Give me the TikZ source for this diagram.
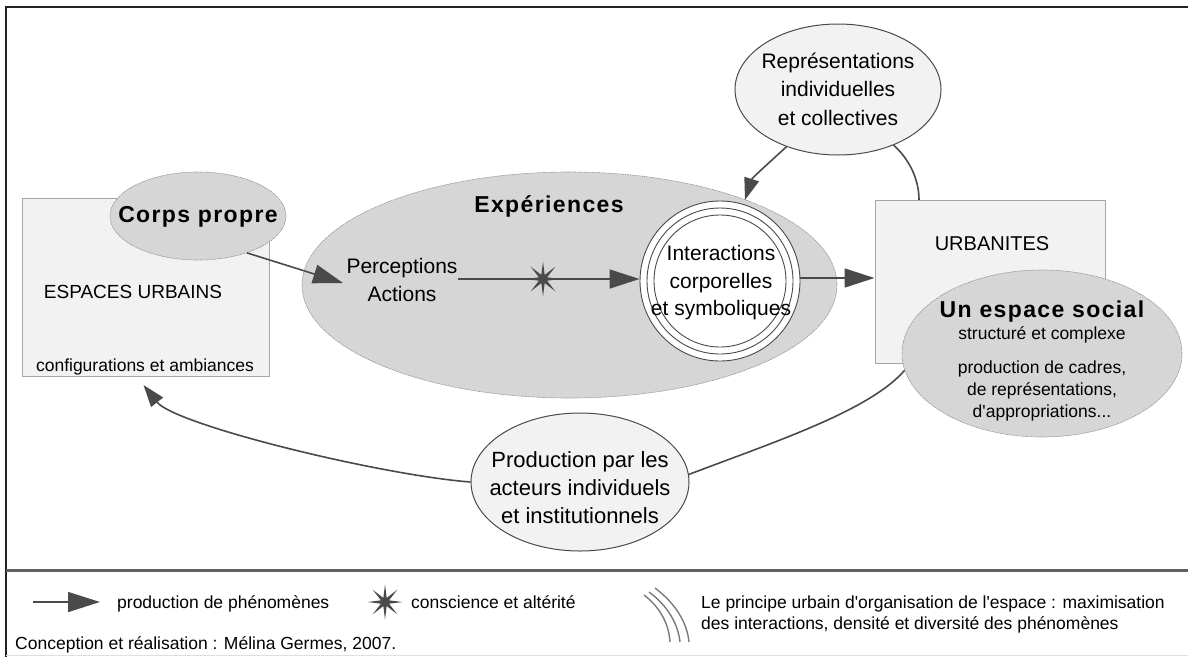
\documentclass[tikz,border=0pt]{standalone}
\usepackage{fontspec}
\setmainfont{Liberation Sans}[Ligatures=TeXOff]
\newfontfamily\boldsp{Liberation Sans}[LetterSpace=6, Ligatures=TeXOff]
\usetikzlibrary{shapes.geometric,arrows.meta,calc}
\definecolor{lightfill}{HTML}{F2F2F2}
\definecolor{midfill}{HTML}{D6D6D6}
\definecolor{linec}{HTML}{4A4A4A}
\definecolor{framec}{HTML}{222222}
\definecolor{arcc}{HTML}{7A7A7A}
\begin{document}
\begin{tikzpicture}[x=1pt,y=-1pt,
  txt/.style={font=\fontsize{21}{26}\selectfont, inner sep=0pt, anchor=base},
  txtsm/.style={font=\fontsize{17.5}{22}\selectfont, inner sep=0pt, anchor=base},
  txtbold/.style={font=\boldsp\bfseries\fontsize{23}{28}\selectfont, inner sep=0pt, anchor=base},
  grayell/.style={ellipse, fill=midfill, draw=gray!85, dash pattern=on 1.6pt off 0.8pt, line width=0.6pt, inner sep=0pt},
  lightell/.style={ellipse, fill=lightfill, draw=linec, line width=1pt, inner sep=0pt},
  boxs/.style={rectangle, fill=lightfill, draw=gray!70, line width=1pt, inner sep=0pt},
  conn/.style={draw=linec, line width=1.6pt},
  arr/.style={conn, -{Triangle[length=30pt,width=19pt]}},
  arrs/.style={conn, -{Triangle[length=22pt,width=15pt]}},
  starn/.style={star, star points=8, star point ratio=4, fill=linec, inner sep=0pt, minimum size=35pt},
  arcline/.style={draw=arcc, line width=1.4pt}
]
\useasboundingbox (0,0) rectangle (1188,657);
% frame
\draw[framec, line width=2.5pt] (6,657) -- (6,7) -- (1188,7);
\draw[gray!25, line width=1pt] (6,655.5) -- (1188,655.5);
\draw[gray!75!black, line width=2.5pt] (6,570.5) -- (1188,570.5);

% boxes
\node[boxs, minimum width=247pt, minimum height=178pt] (esp) at (145.5,287) {};
\node[boxs, minimum width=230pt, minimum height=163pt] (urb) at (990,281.5) {};

% ellipses
\node[grayell, minimum width=176pt, minimum height=88pt] (corps) at (198,216) {};
\node[grayell, minimum width=535pt, minimum height=226pt] (exper) at (569.5,285) {};
\node[grayell, minimum width=280pt, minimum height=167pt] (social) at (1042,353.5) {};
\node[lightell, minimum width=206pt, minimum height=131pt] (repr) at (838,89.5) {};
\node[lightell, minimum width=218pt, minimum height=138pt] (prod) at (580,482) {};

% triple circle
\node[circle, fill=white, draw=linec, line width=0.9pt, minimum size=160pt, inner sep=0pt] (inter) at (720,281) {};
\node[circle, draw=linec, line width=0.9pt, minimum size=146pt, inner sep=0pt] (inter2) at (inter.center) {};
\node[circle, draw=linec, line width=0.9pt, minimum size=132pt, inner sep=0pt] (inter3) at (inter.center) {};

% texts
\node[txtbold] (tcorps) at (198,222) {Corps propre};
\node[txtbold] (texp) at (549,212) {Expériences};
\node[txtbold] (tsoc) at (1042,317) {Un espace social};

\node[txt, font=\fontsize{19}{24}\selectfont] (tesp) at (133,298) {ESPACES URBAINS};
\node[txtsm] (tconf) at (145,371) {configurations et ambiances};
\node[txt, font=\fontsize{20}{24}\selectfont] (turb) at (992,250) {URBANITES};

\node[txt] (perc) at (402,273) {Perceptions};
\node[txt] (act) at (402,301) {Actions};

\node[txt] (i1) at (721,260) {Interactions};
\node[txt] (i2) at (721,288) {corporelles};
\node[txt] (i3) at (721,315) {et symboliques};

\node[txt] (r1) at (838,68) {Représentations};
\node[txt] (r2) at (838,96.5) {individuelles};
\node[txt] (r3) at (838,125) {et collectives};

\node[txt, font=\fontsize{22}{26}\selectfont] (p1) at (580,467) {Production par les};
\node[txt, font=\fontsize{22}{26}\selectfont] (p2) at (580,495) {acteurs individuels};
\node[txt, font=\fontsize{22}{26}\selectfont] (p3) at (580,523) {et institutionnels};

\node[txtsm] (s1) at (1042,339) {structuré et complexe};
\node[txtsm] (s2) at (1042,373) {production de cadres,};
\node[txtsm] (s3) at (1042,395) {de représentations,};
\node[txtsm] (s4) at (1042,417) {d'appropriations...};

% connectors
\coordinate (c1) at (343,283);
\draw[arr] (corps.-37) -- (c1);
\coordinate (l1) at (458,279);
\draw[arr] (l1) -- (l1 -| inter.west);
\node[starn] (st1) at (543,279) {};
\coordinate (l2) at (800,278);
\draw[arr] (l2) -- (l2 -| urb.west);
\coordinate (t2) at (745,200);
\draw[arrs] (repr.-132) .. controls (772,160) and (752,178) .. (t2);
\coordinate (u1) at (919,200);
\draw[conn] (repr.-45) .. controls (910,160) and (919,180) .. (u1);
\draw[conn] (social.-173) .. controls (870,410) and (780,440) .. (prod.4);
\coordinate (t3) at (143.5,385);
\draw[arrs] (prod.west) .. controls (380,475) and (175,425) .. (t3);

% legend
\coordinate (lg1) at (33,602);
\coordinate (lg2) at (100,602);
\draw[conn, -{Triangle[length=32pt,width=20pt]}] (lg1) -- (lg2);
\node[txtsm, anchor=base west] (lt1) at (117,608) {production de phénomènes};
\node[starn] (st2) at (385,602) {};
\node[txtsm, anchor=base west] (lt2) at (411,608) {conscience et altérité};
\draw[arcline] (655,588) .. controls (675,603) and (687,622) .. (689,642);
\draw[arcline] (649,592) .. controls (668,606) and (678,624) .. (680,642);
\draw[arcline] (644,595) .. controls (661,608) and (669,625) .. (670,642);
\node[txtsm, anchor=base west] (lt3) at (701,608) {Le principe urbain d'organisation de l'espace : maximisation};
\node[txtsm, anchor=base west] (lt4) at (701,629) {des interactions, densité et diversité des phénomènes};
\node[txtsm, anchor=base west] (lt5) at (15,649) {Conception et réalisation : Mélina Germes, 2007.};
\end{tikzpicture}
\end{document}
